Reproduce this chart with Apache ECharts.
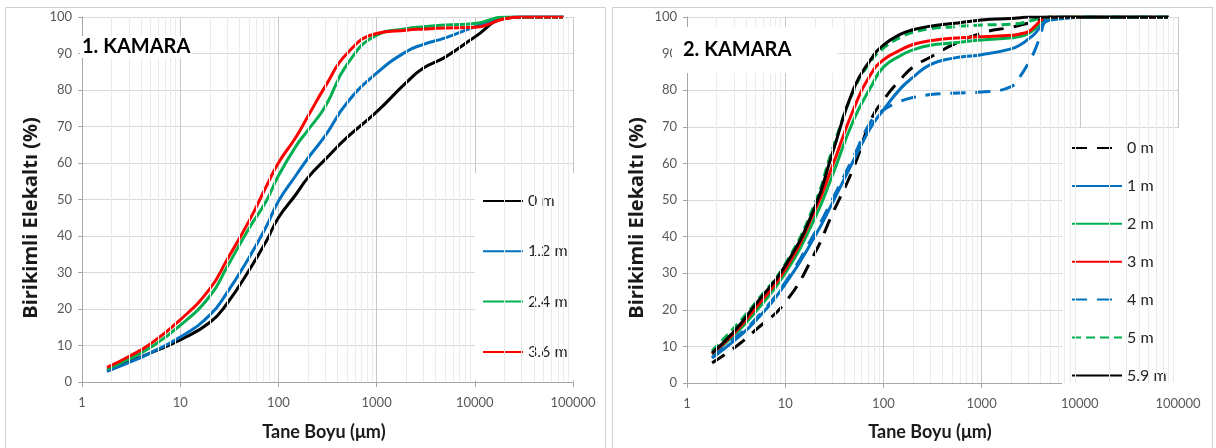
<!DOCTYPE html>
<html><head><meta charset="utf-8">
<script src="https://cdn.jsdelivr.net/npm/echarts@6/dist/echarts.min.js"></script>
<style>html,body{margin:0;padding:0;background:#fff}#c{width:1216px;height:448px}</style>
</head><body><div id="c"></div>
<script>
// ---- Chart 1 (1. KAMARA) ----
const sizes1 = [1.8, 3, 5, 10, 20, 30, 50, 75, 100, 150, 200, 300, 500, 1000, 2000, 3000, 5000, 10000, 20000, 30000, 80000];
const k1_0m  = [3, 5.5, 8, 11.5, 16.3, 21.5, 30.5, 38.5, 45, 51.3, 56, 61, 67, 74, 82, 86, 89, 94.5, 99.6, 100, 100];
const k1_12m = [3, 5.3, 8, 12.3, 18.3, 24.5, 34, 42.5, 49.5, 56.5, 61.3, 67.5, 76.5, 84.6, 90.5, 92.5, 94.3, 97.3, 99.8, 100, 100];
const k1_24m = [3.5, 6.3, 9.5, 15.5, 23.5, 31.5, 42, 49.5, 56.5, 64.5, 69, 75.5, 87, 95, 96.8, 97.3, 97.8, 98.2, 100, 100, 100];
const k1_36m = [4, 7, 10.5, 17, 25.5, 33.5, 44, 53.5, 60, 67, 72.8, 81, 90, 95.5, 96.4, 96.7, 97, 97.2, 99.5, 100, 100];
const legend1 = ['0 m', '1.2 m', '2.4 m', '3.6 m'];

// ---- Chart 2 (2. KAMARA) ----
const sizes2 = [1.8, 3, 5, 10, 20, 30, 50, 75, 100, 150, 200, 300, 500, 1000, 2000, 2500, 3000, 3500, 4000, 4500, 5000, 8000, 10000, 20000, 80000];
const k2_0m  = [5.5, 9.5, 14.5, 22, 35.5, 46, 59, 72, 77.3, 83, 86.3, 89, 92.3, 95.6, 97.2, 97.8, 98.3, 98.8, 99.3, 99.7, 100, 100, 100, 100, 100];
const k2_1m  = [6.8, 11.5, 17, 27, 40, 49, 61, 70, 74.6, 80.5, 83.5, 87, 88.7, 89.7, 91.3, 92.5, 94, 95.5, 97.5, 98.7, 99.2, 99.7, 100, 100, 100];
const k2_2m  = [7.8, 13, 19.5, 30, 45, 56.5, 72, 81, 86.3, 89.5, 91, 92.3, 92.9, 93.7, 94.3, 94.7, 95.5, 96.8, 98.5, 99.5, 100, 100, 100, 100, 100];
const k2_3m  = [8, 13.5, 20.5, 31, 47, 59, 75, 84.5, 88.3, 91, 92.5, 93.5, 94.2, 94.6, 95, 95.4, 96, 97.5, 99, 99.8, 100, 100, 100, 100, 100];
const k2_4m  = [7, 12, 17.5, 27.5, 41, 50, 62, 71.5, 74.6, 77, 78, 78.8, 79.2, 79.5, 81, 84, 87.5, 91, 95.5, 99.5, 100, 100, 100, 100, 100];
const k2_5m  = [8.8, 15, 22, 32.5, 49, 63.5, 80, 88, 91.5, 94.5, 95.8, 96.8, 97.3, 97.8, 98, 98.3, 98.8, 99.3, 99.8, 100, 100, 100, 100, 100, 100];
const k2_59m = [8.2, 14, 21.5, 32, 48, 62.5, 80.5, 88.5, 92.3, 95.3, 96.5, 97.5, 98.2, 99.2, 99.6, 99.8, 100, 100, 100, 100, 100, 100, 100, 100, 100];
const legend2 = ['0 m', '1 m', '2 m', '3 m', '4 m', '5 m', '5.9 m'];

const xTickLabels = ['1', '10', '100', '1000', '10000', '100000'];
const titles = ['1. KAMARA', '2. KAMARA'];
const xTitle = 'Tane Boyu (μm)';
const yTitle = 'Birikimli Elekaltı (%)';

const BLACK = '#000000', BLUE = '#0070C0', GREEN = '#00B050', RED = '#FF0000';
const LONGDASH = [15, 10], SHORTDASH = [9, 5];

function pairs(xs, ys) { return xs.map((x, i) => [x, ys[i]]); }

const minorVals = [];
for (let d = 1; d <= 10000; d *= 10) for (let m = 2; m <= 9; m++) minorVals.push(d * m);

function lineSeries(prefix, name, gi, xs, ys, color, dash) {
  return {
    type: 'line', name: prefix + '|' + name, xAxisIndex: gi, yAxisIndex: gi,
    data: pairs(xs, ys), smooth: 0.5, symbol: 'none',
    lineStyle: { width: 3, color: color, type: dash || 'solid', cap: 'butt' },
    itemStyle: { color: color }, z: 3
  };
}
function minorSeries(gi) {
  return {
    type: 'line', xAxisIndex: gi, yAxisIndex: gi, data: [[1, 0], [1, 0]], symbol: 'none',
    lineStyle: { width: 0, opacity: 0 }, silent: true, z: 1, legendHoverLink: false,
    markLine: { silent: true, symbol: ['none', 'none'], label: { show: false },
      lineStyle: { color: '#ebebeb', width: 1, type: 'solid' },
      emphasis: { disabled: true },
      data: minorVals.map(v => ({ xAxis: v })) }
  };
}

const axisGrey = '#a6a6a6';
function xAxis(gi) {
  return {
    type: 'log', logBase: 10, min: 1, max: 100000, gridIndex: gi,
    axisLine: { show: true, onZero: false, lineStyle: { color: axisGrey, width: 1 } },
    axisTick: { show: true, length: 5, lineStyle: { color: axisGrey } },
    axisLabel: { color: '#595959', fontSize: 13, fontFamily: 'Lato', margin: 14,
      formatter: v => xTickLabels[Math.round(Math.log10(v))] },
    splitLine: { show: true, lineStyle: { color: '#c8c8c8', width: 1 } }
  };
}
function yAxis(gi) {
  return {
    type: 'value', min: 0, max: 100, interval: 10, gridIndex: gi,
    axisLine: { show: true, lineStyle: { color: axisGrey, width: 1 } },
    axisTick: { show: true, length: 4, lineStyle: { color: axisGrey } },
    axisLabel: { color: '#595959', fontSize: 13, fontFamily: 'Lato', margin: 10 },
    splitLine: { show: true, lineStyle: { color: '#d9d9d9', width: 1 } }
  };
}

const chart = echarts.init(document.getElementById('c'), null, { renderer: 'canvas' });
chart.setOption({
  animation: false,
  backgroundColor: '#fff',
  grid: [
    { left: 82, top: 17, width: 491, height: 365 },
    { left: 687, top: 17, width: 491, height: 366 }
  ],
  xAxis: [xAxis(0), xAxis(1)],
  yAxis: [yAxis(0), yAxis(1)],
  title: [
    { text: titles[0], left: 80, top: 36, padding: [1, 2], backgroundColor: '#fff',
      textStyle: { fontSize: 20, fontWeight: 'bold', fontFamily: 'Lato', color: '#000' } },
    { text: titles[1], left: 672, top: 27, padding: [13, 46, 13, 11], backgroundColor: '#fff',
      textStyle: { fontSize: 20, fontWeight: 'bold', fontFamily: 'Lato', color: '#000' } }
  ],
  legend: [
    { data: legend1.map(n => 'A|' + n), orient: 'vertical', left: 475, top: 173,
      padding: [20, 36, 20, 7], itemWidth: 40, itemHeight: 14, itemGap: 34.3,
      backgroundColor: '#fff', selectedMode: false,
      itemStyle: { opacity: 0 },
      formatter: n => n.split('|')[1],
      textStyle: { fontSize: 16, color: '#262626', fontFamily: 'Lato' } },
    { data: legend2.map(n => 'B|' + n), orient: 'vertical', left: 1062, top: 128,
      padding: [12, 40, 8, 9], itemWidth: 50, itemHeight: 14, itemGap: 21.9,
      backgroundColor: '#fff', selectedMode: false,
      itemStyle: { opacity: 0 },
      formatter: n => n.split('|')[1],
      textStyle: { fontSize: 16, color: '#262626', fontFamily: 'Lato' } }
  ],
  graphic: [
    { type: 'rect', shape: { x: 5.5, y: 7.5, width: 600, height: 470 }, style: { fill: 'none', stroke: '#d0d0d0', lineWidth: 1 }, z: -1, silent: true },
    { type: 'rect', shape: { x: 612.5, y: 7.5, width: 600, height: 470 }, style: { fill: 'none', stroke: '#d0d0d0', lineWidth: 1 }, z: -1, silent: true },
    { type: 'text', x: 31, y: 218, rotation: Math.PI / 2, silent: true,
      style: { text: yTitle, align: 'center', verticalAlign: 'middle', font: 'bold 20px "Open Sans"', fill: '#1a1a1a' } },
    { type: 'text', x: 637, y: 218, rotation: Math.PI / 2, silent: true,
      style: { text: yTitle, align: 'center', verticalAlign: 'middle', font: 'bold 20px "Open Sans"', fill: '#1a1a1a' } },
    { type: 'text', x: 324, y: 432, silent: true,
      style: { text: xTitle, align: 'center', verticalAlign: 'middle', font: 'bold 18px Lato', fill: '#1a1a1a' } },
    { type: 'text', x: 930, y: 432, silent: true,
      style: { text: xTitle, align: 'center', verticalAlign: 'middle', font: 'bold 18px Lato', fill: '#1a1a1a' } }
  ],
  series: [
    minorSeries(0), minorSeries(1),
    lineSeries('A', legend1[0], 0, sizes1, k1_0m, BLACK),
    lineSeries('A', legend1[1], 0, sizes1, k1_12m, BLUE),
    lineSeries('A', legend1[2], 0, sizes1, k1_24m, GREEN),
    lineSeries('A', legend1[3], 0, sizes1, k1_36m, RED),
    lineSeries('B', legend2[0], 1, sizes2, k2_0m, BLACK, LONGDASH),
    lineSeries('B', legend2[1], 1, sizes2, k2_1m, BLUE),
    lineSeries('B', legend2[2], 1, sizes2, k2_2m, GREEN),
    lineSeries('B', legend2[3], 1, sizes2, k2_3m, RED),
    lineSeries('B', legend2[4], 1, sizes2, k2_4m, BLUE, LONGDASH),
    lineSeries('B', legend2[5], 1, sizes2, k2_5m, GREEN, SHORTDASH),
    lineSeries('B', legend2[6], 1, sizes2, k2_59m, BLACK)
  ]
});
</script></body></html>
